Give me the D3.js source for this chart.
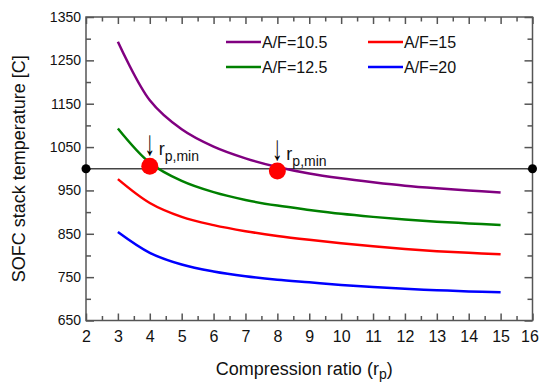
<!DOCTYPE html>
<html>
<head>
<meta charset="utf-8">
<script src="https://cdn.jsdelivr.net/npm/d3@7"></script>
<style>
body{margin:0;background:#fff;}
text{font-family:"Liberation Sans",Arial,sans-serif;fill:#111;}
</style>
</head>
<body>
<svg id="chart" width="539" height="382"></svg>
<script>
// compression ratio and stack temperature per A/F ratio
var rp = [3,4,5,6,7,8,9,10,11,12,13,14,15]
var af105 = [1293,1158,1091,1051,1024,1004,989,978,969,961,955,950,945]
var af125 = [1093,1014,972,946,928,915,905,896,889,883,878,874,870]
var af15  = [976,921,889,870,856,845,836,828,821,815,810,806,803]
var af20  = [854,806,779,763,752,744,738,732,727,723,720,717,715]
var series_names = ["A/F=10.5","A/F=12.5","A/F=15","A/F=20"]
var series_colors = ["#800080","#008000","#ff0000","#0000ff"]
var x_ticks = [2,3,4,5,6,7,8,9,10,11,12,13,14,15,16]
var y_ticks = [650,750,850,950,1050,1150,1250,1350]
var ref_temp = 1000
var rp_min = [{x:4,y:1006},{x:8,y:995}]

var margin = {top:17, right:6.5, bottom:61.5, left:86}
var W = 539, H = 382
var svg = d3.select("#chart")
var g = svg.append("g").attr("transform","translate("+margin.left+","+margin.top+")")
var w = W-margin.left-margin.right, h = H-margin.top-margin.bottom

var x = d3.scaleLinear().domain([2,16]).range([0,w])
var y = d3.scaleLinear().domain([650,1350]).range([h,0])

var x_minor = d3.range(2.5,16,1)
var y_minor = d3.range(700,1350,100)

function style_axis(sel){
    sel.select(".domain").remove()
    sel.selectAll("line").attr("stroke","#555").attr("stroke-width",1.5)
}
// bottom
var xb = g.append("g").attr("transform","translate(0,"+h+")")
    .call(d3.axisBottom(x).tickValues(x_ticks).tickSizeInner(-7).tickSizeOuter(0).tickPadding(6))
    .call(style_axis)
xb.selectAll("text").attr("font-size","16px").attr("dy","0.95em")
    .attr("dx",function(d){return d==16 ? -3 : 0})
g.append("g").attr("transform","translate(0,"+h+")")
    .call(d3.axisBottom(x).tickValues(x_minor).tickSizeInner(-4.5).tickSizeOuter(0).tickFormat(""))
    .call(style_axis)
// top
g.append("g").call(d3.axisTop(x).tickValues(x_ticks).tickSizeInner(-7).tickSizeOuter(0).tickFormat(""))
    .call(style_axis)
g.append("g").call(d3.axisTop(x).tickValues(x_minor).tickSizeInner(-4.5).tickSizeOuter(0).tickFormat(""))
    .call(style_axis)
// left
g.append("g")
    .call(d3.axisLeft(y).tickValues(y_ticks).tickSizeInner(-8).tickSizeOuter(0).tickPadding(5).tickFormat(d3.format("d")))
    .call(style_axis)
    .selectAll("text").attr("font-size","14px")
g.append("g")
    .call(d3.axisLeft(y).tickValues(y_minor).tickSizeInner(-5).tickSizeOuter(0).tickFormat(""))
    .call(style_axis)
// right
g.append("g").attr("transform","translate("+w+",0)")
    .call(d3.axisRight(y).tickValues(y_ticks).tickSizeInner(-8).tickSizeOuter(0).tickFormat(""))
    .call(style_axis)
g.append("g").attr("transform","translate("+w+",0)")
    .call(d3.axisRight(y).tickValues(y_minor).tickSizeInner(-5).tickSizeOuter(0).tickFormat(""))
    .call(style_axis)

g.append("rect").attr("width",w).attr("height",h)
    .attr("fill","none").attr("stroke","#555").attr("stroke-width",1.5)

// reference line
g.append("line")
    .attr("x1",x(2)).attr("x2",x(16)).attr("y1",y(ref_temp)).attr("y2",y(ref_temp))
    .attr("stroke","#444").attr("stroke-width",1.5)

var all_series = [af105,af125,af15,af20]
var line = d3.line().x(function(d,i){return x(rp[i])}).y(function(d){return y(d)}).curve(d3.curveCatmullRom)
all_series.forEach(function(vals,i){
    g.append("path").datum(vals)
        .attr("d",line)
        .attr("fill","none")
        .attr("stroke",series_colors[i])
        .attr("stroke-width",2.5)
})

g.selectAll(".enddot").data([2,16]).enter().append("circle")
    .attr("cx",function(d){return x(d)}).attr("cy",y(ref_temp)).attr("r",4.5).attr("fill","#000")

g.selectAll(".rpdot").data(rp_min).enter().append("circle")
    .attr("cx",function(d){return x(d.x)}).attr("cy",function(d){return y(d.y)})
    .attr("r",8.5).attr("fill","#ff0000")

rp_min.forEach(function(d){
    g.append("text").attr("transform","translate("+x(d.x)+","+(y(d.y)-11)+") scale(0.75,1.25)")
        .attr("text-anchor","middle").attr("font-size","28px")
        .style("fill","#000").text("\u2193")
    var t = g.append("text").attr("x",x(d.x)+9).attr("y",y(d.y)-11).attr("font-size","18px")
    t.append("tspan").text("r")
    t.append("tspan").attr("dy",6).attr("font-size","14px").text("p,min")
})

// legend
var leg_pos = [[140,25],[140,50],[282,25],[282,50]]
var leg_order = [0,1,2,3]
leg_order.forEach(function(i){
    var lg = g.append("g").attr("transform","translate("+leg_pos[i][0]+","+leg_pos[i][1]+")")
    lg.append("line").attr("x1",0).attr("x2",35).attr("stroke",series_colors[i]).attr("stroke-width",2.5)
    lg.append("text").attr("x",36).attr("dy","0.36em").attr("font-size","16px").text(series_names[i])
})

// axis titles
svg.append("text").attr("x",margin.left+w/2-5).attr("y",375)
    .attr("text-anchor","middle").attr("font-size","18px")
    .call(function(t){
        t.append("tspan").text("Compression ratio (r")
        t.append("tspan").attr("dy",4).attr("font-size","14px").text("p")
        t.append("tspan").attr("dy",-4).text(")")
    })
svg.append("text")
    .attr("transform","translate(25,"+(margin.top+h/2)+") rotate(-90)")
    .attr("text-anchor","middle").attr("font-size","18px")
    .text("SOFC stack temperature [C]")
</script>
</body>
</html>
